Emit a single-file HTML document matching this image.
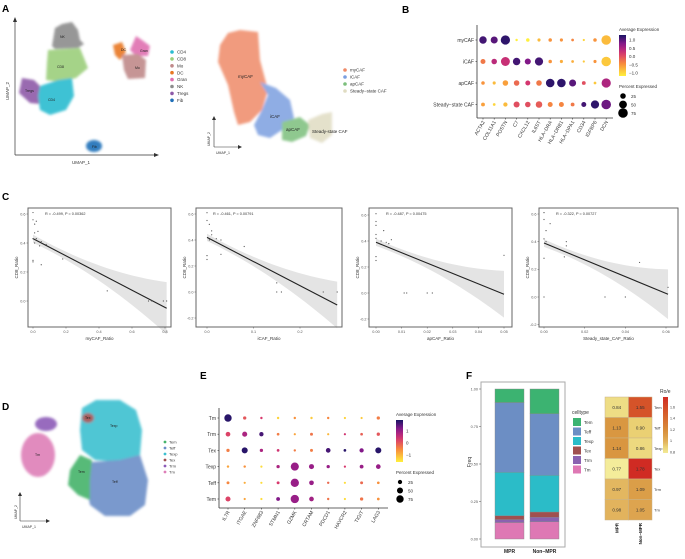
<!DOCTYPE html>
<html><head><meta charset="utf-8"><style>
html,body{margin:0;padding:0;background:#fff}
svg{display:block;font-family:"Liberation Sans",Arial,sans-serif}
</style></head><body>
<svg id="fig" width="685" height="559" viewBox="0 0 685 559" xmlns="http://www.w3.org/2000/svg">
<defs><filter id="bl" x="-20%" y="-20%" width="140%" height="140%"><feGaussianBlur stdDeviation="1.2"/></filter></defs>
<g font-weight="bold" font-size="10" fill="#000">
<text x="2" y="12">A</text>
<text x="402" y="13">B</text>
<text x="2" y="200">C</text>
<text x="2" y="410">D</text>
<text x="200" y="379">E</text>
<text x="466" y="379">F</text>
</g>

<g>
<g filter="url(#bl)" opacity="0.9">
<path d="M52,46 L55,28 L62,24 L72,22 L78,30 L80,40 L84,44 L78,48 L55,49 Z" fill="#8c8c8c"/>
<path d="M48,50 L80,48 L88,68 L76,78 L60,82 L46,80 L47,62 Z" fill="#9ccf7c"/>
<path d="M22,78 L34,80 L42,88 L40,104 L30,103 L19,93 Z" fill="#8e5aa8"/>
<path d="M40,86 L58,80 L72,78 L74,96 L66,110 L50,115 L40,110 L38,96 Z" fill="#2bbcd0"/>
<path d="M113,45 L122,42 L126,52 L120,60 L115,55 Z" fill="#e87722"/>
<path d="M136,36 L142,40 L150,46 L148,56 L136,56 L130,50 Z" fill="#df6fb0"/>
<path d="M122,55 L138,54 L146,60 L145,78 L128,79 L124,70 Z" fill="#c08a8a"/>
<ellipse cx="94" cy="146" rx="8" ry="6" fill="#1f6fb8"/>
</g>
<g font-size="3.5" fill="#222"><text x="60" y="38">NK</text><text x="57" y="68">CD8</text><text x="25" y="92">Tregs</text><text x="48" y="101">CD4</text><text x="121" y="51">DC</text><text x="140" y="52">Gran</text><text x="135" y="69">Mo</text><text x="92" y="148">Fib</text></g>
<line x1="15" y1="155" x2="15" y2="20" stroke="#333" stroke-width="0.7"/><path d="M13,22 L15,17 L17,22Z" fill="#333"/>
<line x1="15" y1="155" x2="156" y2="155" stroke="#333" stroke-width="0.7"/><path d="M154,153 L159,155 L154,157Z" fill="#333"/>
<text x="72" y="164" font-size="4.5" fill="#333">UMAP_1</text>
<text transform="translate(9,100) rotate(-90)" font-size="4.5" fill="#333">UMAP_2</text>
<g font-size="4.5" fill="#333" id="legA"></g>
</g>

<g>
<g filter="url(#bl)" opacity="0.85">
<path d="M220,45 L228,33 L240,30 L258,32 L260,60 L268,90 L262,110 L250,122 L238,125 L234,112 L228,85 L218,62 Z" fill="#ef8a67"/>
<path d="M260,82 L276,88 L290,100 L294,118 L282,130 L270,138 L258,135 L254,125 L262,110 L268,95 Z" fill="#7b9fe0"/>
<path d="M282,122 L300,117 L310,125 L306,136 L292,142 L282,140 Z" fill="#7cbf7c"/>
<path d="M308,120 L322,114 L332,112 L332,135 L322,143 L310,138 Z" fill="#e0dcc2"/>
</g>
<g font-size="4.5" fill="#222"><text x="238" y="78">myCAF</text><text x="270" y="118">iCAF</text><text x="286" y="131">apCAF</text><text x="312" y="133">Steady-state CAF</text></g>
<line x1="214" y1="147" x2="214" y2="118" stroke="#333" stroke-width="0.6"/><path d="M212,120 L214,116 L216,120Z" fill="#333"/>
<line x1="214" y1="147" x2="240" y2="147" stroke="#333" stroke-width="0.6"/><path d="M238,145 L242,147 L238,149Z" fill="#333"/>
<text x="216" y="154" font-size="3.5" fill="#333">UMAP_1</text>
<text transform="translate(210,146) rotate(-90)" font-size="3.5" fill="#333">UMAP_2</text>
<g font-size="4.5" fill="#333" id="legCAF"></g>
</g>

<g id="panelB"></g>
<g id="panelC"></g>

<g>
<g filter="url(#bl)" opacity="0.9">
<path d="M82,408 L96,400 L120,400 L136,410 L142,430 L140,455 L120,462 L95,460 L82,450 L80,430 Z" fill="#3cc0d0"/>
<path d="M92,462 L120,460 L140,455 L148,480 L145,505 L130,516 L105,516 L90,505 L85,480 Z" fill="#6c8ec8"/>
<path d="M70,470 L80,455 L92,460 L90,480 L90,500 L78,495 L68,485 Z" fill="#45b36a"/>
<ellipse cx="88" cy="418" rx="6" ry="5" fill="#a05050"/>
<ellipse cx="46" cy="424" rx="11" ry="7" fill="#8d5cb8"/>
<ellipse cx="38" cy="455" rx="17" ry="22" fill="#de7fb8"/>
</g>
<g font-size="3.5" fill="#222"><text x="85" y="419">Tex</text><text x="110" y="427">Texp</text><text x="78" y="473">Tem</text><text x="112" y="483">Teff</text><text x="35" y="456">Tm</text></g>
<line x1="20" y1="521" x2="20" y2="494" stroke="#333" stroke-width="0.6"/><path d="M18,496 L20,492 L22,496Z" fill="#333"/>
<line x1="20" y1="521" x2="48" y2="521" stroke="#333" stroke-width="0.6"/><path d="M46,519 L50,521 L46,523Z" fill="#333"/>
<text x="22" y="528" font-size="3.5" fill="#333">UMAP_1</text>
<text transform="translate(17,519) rotate(-90)" font-size="3.5" fill="#333">UMAP_2</text>
<g font-size="4" fill="#333" id="legD"></g>
</g>

<g id="panelE"></g>
<g id="panelF"></g>
<g id="panelH"></g>
</svg>
<script>
const NS="http://www.w3.org/2000/svg";
function mk(p,t,a,txt){const e=document.createElementNS(NS,t);for(const k in a)e.setAttribute(k,a[k]);if(txt!==undefined)e.textContent=txt;p.appendChild(e);return e;}
const $=id=>document.getElementById(id);

const legAlabels=["CD4","CD8","Mo","DC","Gran","NK","Tregs","Fib"];
const legAcolors=["#2bbcd0","#9ccf7c","#c08a8a","#e87722","#df6fb0","#8c8c8c","#8e5aa8","#1f6fb8"];
legAlabels.forEach((l,i)=>{const c=mk($('legA'),'circle',{cx:172,cy:52+i*6.9,r:1.8,fill:legAcolors[i]});


mk($('legA'),'text',{x:177,y:53.6+i*6.9},l);});
const cafLabels=["myCAF","iCAF","apCAF","Steady\u2212state CAF"];
const cafColors=["#ef8a67","#7b9fe0","#7cbf7c","#e0dcc2"];
cafLabels.forEach((l,i)=>{const c=mk($('legCAF'),'circle',{cx:345,cy:70+i*7,r:1.8,fill:cafColors[i]});


mk($('legCAF'),'text',{x:350,y:71.6+i*7},l);});
const tLabels=["Tem","Teff","Texp","Tex","Trm","Tm"];
const tColors=["#45b36a","#6c8ec8","#3cc0d0","#a05050","#8d5cb8","#de7fb8"];
tLabels.forEach((l,i)=>{const c=mk($('legD'),'circle',{cx:165,cy:442+i*6,r:1.4,fill:tColors[i]});


mk($('legD'),'text',{x:169,y:443.5+i*6},l);});

const stops=[[0,[255,240,60]],[0.3,[248,140,60]],[0.55,[215,55,110]],[0.78,[140,25,140]],[1,[25,20,100]]];
function cmap(t){t=Math.max(0,Math.min(1,t));for(let i=1;i<stops.length;i++){if(t<=stops[i][0]){const a=stops[i-1],b=stops[i];const f=(t-a[0])/(b[0]-a[0]);return 'rgb('+a[1].map((v,k)=>Math.round(v+(b[1][k]-v)*f)).join(',')+')';}}return 'rgb(25,20,100)';}

const bGenes=["ACTA2","COL11A1","POSTN","C7","CXCL12","IL6ST","HLA\u2212DRA","HLA\u2212DRB1","HLA\u2212DPA1","CD34","IGFBP6","DCN"];
const bGroups=["myCAF","iCAF","apCAF","Steady\u2212state CAF"];
const bExpr=[[1.1,1.0,1.2,-1.2,-1.2,-0.8,-0.5,-0.5,-0.4,-1.0,-0.5,-0.8],
[-0.3,0.4,0.3,1.1,0.8,1.1,-0.5,-0.7,-0.7,-0.9,-0.5,-0.9],
[-0.5,-0.8,-0.6,-0.2,0.2,-0.3,1.2,1.2,1.0,0.0,-0.9,0.5],
[-0.6,-1.0,-0.8,0.0,0.0,-0.1,-0.4,-0.4,-0.3,1.1,1.2,0.9]];
const bPct=[[45,40,70,5,10,8,10,8,6,4,10,75],[20,25,65,45,30,55,10,8,6,4,8,75],[10,8,25,25,20,25,60,60,40,12,6,70],[12,6,15,30,25,35,20,20,12,20,55,75]];
const bTicks=["1.0","0.5","0.0","\u22120.5","\u22121.0"];
const bTickVals=[1,0.5,0,-0.5,-1];
function dotplot(g,genes,groups,expr,pct,o){
  const xs=i=>o.x0+i*o.dx, ys=j=>o.y0+j*o.dy, col=v=>cmap((v-o.vmin)/(o.vmax-o.vmin)), rr=p=>Math.max(1.1,Math.sqrt(p/75)*o.rmax);
  mk(g,'line',{x1:o.ax,y1:o.top,x2:o.ax,y2:o.bot,stroke:'#333','stroke-width':0.8});
  mk(g,'line',{x1:o.ax,y1:o.bot,x2:o.right,y2:o.bot,stroke:'#333','stroke-width':0.8});
  groups.forEach((gr,j)=>{mk(g,'text',{x:o.ax-3,y:ys(j)+2,'font-size':o.fs,'text-anchor':'end',fill:'#333'},gr);
    mk(g,'line',{x1:o.ax-1.5,y1:ys(j),x2:o.ax,y2:ys(j),stroke:'#333','stroke-width':0.6});
    genes.forEach((ge,i)=>{const c=mk(g,'circle',{cx:xs(i),cy:ys(j),r:rr(pct[j][i]).toFixed(2),fill:col(expr[j][i])});
      
      });});
  genes.forEach((ge,i)=>{mk(g,'line',{x1:xs(i),y1:o.bot,x2:xs(i),y2:o.bot+1.5,stroke:'#333','stroke-width':0.6});
    mk(g,'text',{transform:`translate(${xs(i)+2},${o.bot+4}) rotate(-60)`,'font-size':o.fs,'text-anchor':'end',fill:'#333'},ge);});
  mk(g,'text',{x:o.lx,y:o.ly,'font-size':o.fs-0.5,fill:'#333'},'Average Expression');
  const gid='grad'+o.id;const lg=mk(document.querySelector('defs'),'linearGradient',{id:gid,x1:0,y1:1,x2:0,y2:0});
  for(let k=0;k<=10;k++)mk(lg,'stop',{offset:k/10,'stop-color':cmap(k/10)});
  mk(g,'rect',{x:o.lx,y:o.ly+4,width:7,height:o.cbh,fill:`url(#${gid})`});
  o.ticks.forEach((t,k)=>{const y=o.ly+4+o.cbh*(1-(o.tickVals[k]-o.vmin)/(o.vmax-o.vmin));
    mk(g,'text',{x:o.lx+10,y:y+1.8,'font-size':o.fs-0.5,fill:'#333'},t);});
  const py=o.ly+o.cbh+16;mk(g,'text',{x:o.lx,y:py,'font-size':o.fs-0.5,fill:'#333'},'Percent Expressed');
  [25,50,75].forEach((p,k)=>{mk(g,'circle',{cx:o.lx+4,cy:py+8+k*8.5,r:rr(p),fill:'#000'});mk(g,'text',{x:o.lx+12,y:py+10+k*8.5,'font-size':o.fs-0.5,fill:'#333'},p);});
}
dotplot($('panelB'),bGenes,bGroups,bExpr,bPct,{id:'B',x0:483,dx:11.2,y0:40,dy:21.5,ax:477,top:25,bot:118,right:613,vmin:-1.2,vmax:1.3,rmax:4.8,fs:5,lx:619,ly:31,cbh:41,ticks:bTicks,tickVals:bTickVals});

const eGenes=["IL7R","ITGAE","ZNF683","STMN1","GZMK","CRTAM","PDCD1","HAVCR2","TIGIT","LAG3"];
const eGroups=["Tm","Trm","Tex","Texp","Teff","Tem"];
const eExpr=[[1.8,0,0.3,-1.3,-0.6,-1.2,-0.5,-1.3,-1.2,-0.4],[0.2,0.8,1.6,-0.4,-0.8,-0.3,-1,0.4,-0.1,0],[-0.4,1.8,0.8,0.4,-0.4,-0.4,1.6,1.8,1.2,1.8],[-0.8,-0.6,-1.4,0.8,1.0,1.0,1.0,0.3,1.0,1.0],[-0.5,-0.9,-1.4,0.3,1.0,1.0,-0.2,-1.4,-0.2,-0.6],[0.2,-0.8,-1.4,1.2,1.0,0.9,-0.3,-1.4,-0.3,-0.6]];
const ePct=[[75,15,8,8,8,8,8,4,6,15],[30,35,25,10,6,12,6,5,10,15],[15,50,15,10,8,12,30,10,25,50],[8,8,3,15,90,35,15,4,20,30],[12,4,3,12,95,30,8,3,12,10],[35,6,3,20,95,30,8,3,15,10]];
const eTicks=["1","0","\u22121"];const eTickVals=[1,0,-1];
dotplot($('panelE'),eGenes,eGroups,eExpr,ePct,{id:'E',x0:228,dx:16.7,y0:418,dy:16.2,ax:219,top:408,bot:508,right:388,vmin:-1.6,vmax:1.9,rmax:3.7,fs:5,lx:396,ly:416,cbh:42,ticks:eTicks,tickVals:eTickVals});

const c1x=[0,0,0.01,0.02,0.01,0.03,0,0.02,0.01,0.05,0.04,0.08,0,0,0.05,0.18,0.45,0.70,0.72,0.79,0.81];
const c1y=[0.61,0.56,0.53,0.55,0.47,0.48,0.43,0.43,0.40,0.41,0.38,0.39,0.28,0.27,0.25,0.29,0.07,0,0,0,0];
const c2x=[0,0,0.005,0.01,0.01,0.005,0.02,0.03,0,0,0.03,0.08,0.15,0.15,0.16,0.25,0.28];
const c2y=[0.61,0.55,0.52,0.47,0.44,0.40,0.41,0.40,0.28,0.25,0.29,0.35,0.07,0,0,0,0];
const c3x=[0,0,0,0,0,0.002,0.003,0.004,0.006,0.005,0,0,0.05,0.011,0.012,0.02,0.022];
const c3y=[0.61,0.55,0.52,0.45,0.42,0.40,0.48,0.39,0.41,0.38,0.28,0.25,0.29,0,0,0,0];
const c4x=[0,0,0.001,0.003,0,0.001,0.011,0.011,0.01,0,0,0.03,0.04,0.047,0.061];
const c4y=[0.61,0.56,0.48,0.53,0.42,0.40,0.40,0.37,0.29,0.28,0,0,0,0.25,0.07];
const cFit=[[0.43,-0.05],[0.42,-0.10],[0.39,-0.01],[0.39,0.02]];
const cStats=["R = -0.499, P = 0.00362","R = -0.461, P = 0.00791","R = -0.487, P = 0.00475","R = -0.322, P = 0.00727"];
const cTitles=["myCAF_Ratio","iCAF_Ratio","apCAF_Ratio","Steady_state_CAF_Ratio"];
const cXticks=[[0,0.2,0.4,0.6,0.8],[0,0.1,0.2],[0,0.01,0.02,0.03,0.04,0.05],[0,0.02,0.04,0.06]];
const cXtickLab=[["0.0","0.2","0.4","0.6","0.8"],["0.0","0.1","0.2"],["0.00","0.01","0.02","0.03","0.04","0.05"],["0.00","0.02","0.04","0.06"]];
const cYticks=[[0,0.2,0.4,0.6],[-0.2,0,0.2,0.4,0.6],[-0.2,0,0.2,0.4,0.6],[-0.2,0,0.2,0.4,0.6]];
const cYtickLab=[["0.0","0.2","0.4","0.6"],["-0.2","0.0","0.2","0.4","0.6"],["-0.2","0.0","0.2","0.4","0.6"],["-0.2","0.0","0.2","0.4","0.6"]];
const cXs=[c1x,c2x,c3x,c4x],cYs=[c1y,c2y,c3y,c4y];
const cLay=[{fl:28,fr:171,ft:208,fb:327,x0:33,x1:165,xv:0.8,y6:214,y0:301,xmax:0.81},
{fl:196,fr:342,ft:208,fb:327,x0:207,x1:300,xv:0.2,y6:214,y0:292,xmax:0.28},
{fl:369,fr:512,ft:208,fb:327,x0:376,x1:504,xv:0.05,y6:215,y0:293,xmax:0.05},
{fl:539,fr:678,ft:208,fb:327,x0:544,x1:666,xv:0.06,y6:214,y0:297,xmax:0.061}];
cLay.forEach((L,p)=>{const g=mk($('panelC'),'g',{});
  
  
  const X=v=>L.x0+(L.x1-L.x0)*v/L.xv, Y=v=>L.y0+(L.y6-L.y0)*v/0.6;
  const [a,b]=cFit[p];const f=x=>a+(b-a)*x/L.xmax;
  let up=[],dn=[];for(let k=0;k<=20;k++){const x=L.xmax*k/20;const t=(k/20-0.12);const hw=0.025+0.2*t*t;up.push(X(x)+','+Y(f(x)+hw));dn.unshift(X(x)+','+Y(f(x)-hw));}
  mk(g,'polygon',{points:up.concat(dn).join(' '),fill:'#e4e4e4'});
  mk(g,'line',{x1:X(0),y1:Y(a),x2:X(L.xmax),y2:Y(b),stroke:'#222','stroke-width':1.1});
  cXs[p].forEach((x,i)=>{const c=mk(g,'circle',{cx:X(x),cy:Y(cYs[p][i]),r:0.6,fill:'#555'});
    
    });
  mk(g,'rect',{x:L.fl,y:L.ft,width:L.fr-L.fl,height:L.fb-L.ft,fill:'none',stroke:'#666','stroke-width':1});
  mk(g,'text',{x:L.fl+17,y:L.ft+7,'font-size':3.8,fill:'#333'},cStats[p]);
  cXticks[p].forEach((v,k)=>{mk(g,'line',{x1:X(v),y1:L.fb,x2:X(v),y2:L.fb+1.5,stroke:'#555','stroke-width':0.5});mk(g,'text',{x:X(v),y:L.fb+6,'font-size':3.8,'text-anchor':'middle',fill:'#555'},cXtickLab[p][k]);});
  cYticks[p].forEach((v,k)=>{const y=Y(v);if(y>L.fb||y<L.ft)return;mk(g,'line',{x1:L.fl-1.5,y1:y,x2:L.fl,y2:y,stroke:'#555','stroke-width':0.5});mk(g,'text',{x:L.fl-2.5,y:y+1.4,'font-size':3.8,'text-anchor':'end',fill:'#555'},cYtickLab[p][k]);});
  mk(g,'text',{x:(L.fl+L.fr)/2,y:L.fb+13,'font-size':4.5,'text-anchor':'middle',fill:'#333'},cTitles[p]);
  mk(g,'text',{transform:`translate(${L.fl-10},${(L.ft+L.fb)/2}) rotate(-90)`,'font-size':4.5,'text-anchor':'middle',fill:'#333'},'CD8_Ratio');
});

const fGroups=["MPR","Non\u2212MPR"];
const fTypes=["Tm","Trm","Tex","Texp","Teff","Tem"];
const fColors={Tem:"#3cb371",Teff:"#6c8ec4",Texp:"#2bbcc8",Tex:"#a0504f",Trm:"#8a62b0",Tm:"#de78b4"};
const fMPR=[0.11,0.02,0.025,0.29,0.465,0.09];
const fNon=[0.115,0.03,0.035,0.245,0.41,0.165];
const fYticks=[0,0.25,0.5,0.75,1];const fYlab=["0.00","0.25","0.50","0.75","1.00"];
(function(){const g=$('panelF');const Y=v=>539-150*v;const bx=[495,530],bw=29;
  mk(g,'rect',{x:481,y:382,width:84,height:165,fill:'#fff',stroke:'#aaa','stroke-width':1});
  [fMPR,fNon].forEach((arr,j)=>{let cum=0;arr.forEach((v,i)=>{const r=mk(g,'rect',{x:bx[j],y:Y(cum+v),width:bw,height:150*v,fill:fColors[fTypes[i]],stroke:'#888','stroke-width':0.4});
    
    cum+=v;});
    mk(g,'text',{x:bx[j]+bw/2,y:553,'font-size':5,'font-weight':'bold','text-anchor':'middle',fill:'#222'},fGroups[j]);});
  fYticks.forEach((v,k)=>{mk(g,'line',{x1:479,y1:Y(v),x2:481,y2:Y(v),stroke:'#555','stroke-width':0.5});mk(g,'text',{x:478,y:Y(v)+1.5,'font-size':3.8,'text-anchor':'end',fill:'#555'},fYlab[k]);});
  mk(g,'text',{transform:'translate(471,462) rotate(-90)','font-size':5,'text-anchor':'middle',fill:'#333'},'Freq');
  mk(g,'text',{x:572,y:414,'font-size':5,fill:'#333'},'celltype');
  ["Tem","Teff","Texp","Tex","Trm","Tm"].forEach((t,i)=>{const r=mk(g,'rect',{x:573,y:418+i*9.5,width:8,height:8,fill:fColors[t]});
    
    
    mk(g,'text',{x:584,y:424+i*9.5,'font-size':4.5,fill:'#333'},t);});
})();

const hRows=["Tem","Teff","Texp","Tex","Trm","Tm"];
const hCols=["MPR","Non\u2212MPR"];
const hMPR=[0.84,1.13,1.14,0.77,0.97,0.98];
const hNon=[1.55,0.90,0.86,1.78,1.09,1.05];
const hStops=[[0.75,[245,240,160]],[0.9,[234,208,115]],[1.0,[224,172,88]],[1.15,[216,148,62]],[1.5,[214,92,42]],[1.8,[208,40,35]]];
function hcol(v){v=Math.max(0.75,Math.min(1.8,v));for(let i=1;i<hStops.length;i++){if(v<=hStops[i][0]){const a=hStops[i-1],b=hStops[i],f=(v-a[0])/(b[0]-a[0]);return 'rgb('+a[1].map((c,k)=>Math.round(c+(b[1][k]-c)*f)).join(',')+')';}}}
(function(){const g=$('panelH');const x0=605,cw=23.5,y0=397,rh=20.5;
  [hMPR,hNon].forEach((arr,j)=>{arr.forEach((v,i)=>{const r=mk(g,'rect',{x:x0+j*cw,y:y0+i*rh,width:cw,height:rh,fill:hcol(v),stroke:'#c9b38a','stroke-width':0.5});
    
    
    mk(g,'text',{x:x0+j*cw+cw/2,y:y0+i*rh+rh/2+1.6,'font-size':4.5,'text-anchor':'middle',fill:'#333'},v.toFixed(2));});
    mk(g,'text',{transform:`translate(${x0+j*cw+cw/2+1.5},${y0+6*rh+3}) rotate(-90)`,'font-size':4.5,'font-weight':'bold','text-anchor':'end',fill:'#222'},hCols[j]);});
  hRows.forEach((r,i)=>mk(g,'text',{x:x0+2*cw+2,y:y0+i*rh+rh/2+1.5,'font-size':4,fill:'#333'},r));
  mk(g,'text',{x:660,y:393,'font-size':5,fill:'#333'},'Ro/e');
  const lg=mk(document.querySelector('defs'),'linearGradient',{id:'hgrad',x1:0,y1:1,x2:0,y2:0});
  for(let k=0;k<=10;k++)mk(lg,'stop',{offset:k/10,'stop-color':hcol(0.78+k/10*1.0)});
  mk(g,'rect',{x:663,y:397,width:5,height:56,fill:'url(#hgrad)'});
  const hLeg=[1.6,1.4,1.2,1,0.8],hLegLab=["1.6","1.4","1.2","1","0.8"];
  hLeg.forEach((v,k)=>mk(g,'text',{x:670,y:453-56*(v-0.78)/1.0+1.4,'font-size':3.6,fill:'#333'},hLegLab[k]));
})();
</script>
</body></html>
